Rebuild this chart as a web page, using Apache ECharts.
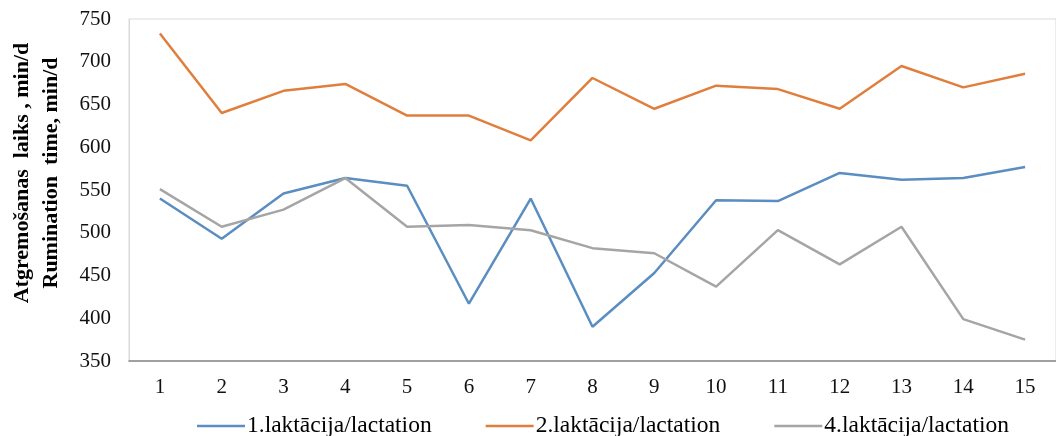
<!DOCTYPE html>
<html>
<head>
<meta charset="utf-8">
<script src="https://cdn.jsdelivr.net/npm/echarts@6/dist/echarts.min.js"></script>
<style>
html,body{margin:0;padding:0;background:#fff;}
#chart{width:1056px;height:436px;}
</style>
</head>
<body>
<div id="chart"></div>
<script>
var categories = ['1','2','3','4','5','6','7','8','9','10','11','12','13','14','15'];
var seriesNames = ['1.laktācija/lactation','2.laktācija/lactation','4.laktācija/lactation'];
var lact1 = [540,493,546,564,555,417,540,390,453,538,537,570,562,564,577];
var lact2 = [733,640,666,674,637,637,608,681,645,672,668,645,695,670,686];
var lact4 = [551,507,527,564,507,509,503,482,476,437,503,463,507,399,375];
var yTitle = 'Atgremošanas  laiks , min/d\nRumination  time, min/d';
var colors = ['#5A8DC1','#E07F3D','#A5A5A5'];
var serif = '"Liberation Serif","Times New Roman",serif';

var chart = echarts.init(document.getElementById('chart'));
function mk(name, data, color){
  return {name:name,type:'line',data:data,symbol:'none',smooth:false,
    lineStyle:{color:color,width:2.5},itemStyle:{color:color}};
}
chart.setOption({
  animation:false,
  grid:{left:129,top:19,width:937,bottom:75,show:true,borderColor:'#d9d9d9',borderWidth:1},
  legend:{
    left:192, top:409, icon:'rect', itemWidth:48, itemHeight:2.5, itemGap:54,
    textStyle:{fontFamily:serif,fontSize:23.5,color:'#000',padding:[0,0,0,-3]},
    data:seriesNames
  },
  xAxis:{
    type:'category', data:categories, boundaryGap:true,
    axisLine:{lineStyle:{color:'#888',width:1.5}},
    axisTick:{show:false},
    axisLabel:{fontFamily:serif,fontSize:21,color:'#111',margin:16}
  },
  yAxis:{
    type:'value', min:350, max:750, interval:50,
    splitLine:{show:false},
    axisLine:{show:true,lineStyle:{color:'#d9d9d9'}},
    axisTick:{show:false},
    axisLabel:{fontFamily:serif,fontSize:21,color:'#111',margin:18},
    name:yTitle, nameLocation:'middle', nameGap:63,
    nameTextStyle:{fontFamily:serif,fontSize:22,fontWeight:'bold',color:'#000',lineHeight:29,padding:[0,0,0,34]}
  },
  series:[mk(seriesNames[0],lact1,colors[0]),mk(seriesNames[1],lact2,colors[1]),mk(seriesNames[2],lact4,colors[2])]
});
</script>
</body>
</html>
